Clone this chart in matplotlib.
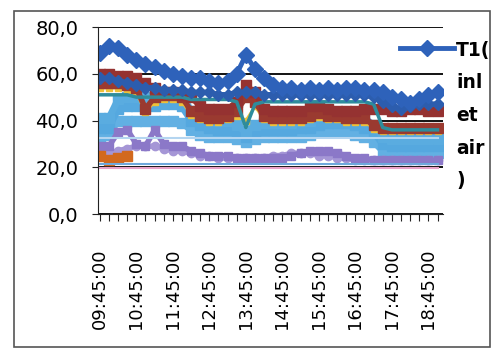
import matplotlib
matplotlib.use("Agg")
import matplotlib.pyplot as plt
from matplotlib.patches import Rectangle
from matplotlib.ticker import FuncFormatter
import numpy as np

nan = np.nan

# categories: 15-minute readings 09:45 .. 19:00
times = ["09:45:00", "10:00:00", "10:15:00", "10:30:00", "10:45:00", "11:00:00",
         "11:15:00", "11:30:00", "11:45:00", "12:00:00", "12:15:00", "12:30:00",
         "12:45:00", "13:00:00", "13:15:00", "13:30:00", "13:45:00", "14:00:00",
         "14:15:00", "14:30:00", "14:45:00", "15:00:00", "15:15:00", "15:30:00",
         "15:45:00", "16:00:00", "16:15:00", "16:30:00", "16:45:00", "17:00:00",
         "17:15:00", "17:30:00", "17:45:00", "18:00:00", "18:15:00", "18:30:00",
         "18:45:00", "19:00:00"]

t1_inlet = [69, 72, 71, 68, 66, 64, 63, 61, 60, 59, 58, 58, 57, 56, 57, 60, 68, 62,
            58, 55, 54, 54, 53, 54, 53, 54, 53, 54, 54, 53, 53, 52, 50, 49, 47.5, 49, 51, 52]
blue2 = [58, 58, 57, 56, 55, 54, 54, 53, 53, 53, 52, 52, 52, 51, 51, 52, 52, 52, 51,
         51, 51, 51, 51, 51, 51, 51, 51, 51, 51, 51, 50, 48, 46, 45, 46, 47, 47, 47]
red_a = [60, 60, 59, 59, 58, 56, 54, 52, 52, 51, 50, 46, 45, 45, 45, 48, 55, 52, 45,
         44, 44, 44, 44, 46, 46, 45, 44, 44, 44, 45, 45, 45, 44, 44, 45, 45, 44, 44]
red_b = [56, 56, 56, 55, 54, 45, 50, 51, 51, 50, 44, 42, 41, 41, 42, 44, 50, 48, 42,
         41, 41, 41, 41, 42, 43, 42, 42, 41, 41, 41, 38, 37, 37, 37, 37, 37, 37, 37]
yellow = [54, 54, 54, 53, 52, 43.5, 48, 49, 49, 48, 42.5, 40.5, 39.5, 39.5, 40.5, 42, 40, 46, 40.5,
          39.5, 39.5, 39.5, 39.5, 40.5, 41.5, 40.5, 40.5, 39.5, 39.5, 39.5, 36.5, 35.5, 35.5, 35.5, 35.5, 35.5, 35.5, 35.5]
teal = [51, 51, 51, 51, 50, 50, 50, 50, 50, 50, 49, 49, 49, 49, 49, 48, 37, 47, 48,
        48, 48, 48, 48, 48, 48, 48, 48, 48, 48, 48, 47, 37, 36, 36, 36, 36, 36, 36]
lblue_1 = [41, 41, 49, 50, 50, 50, 50, 51, 51, 51, 44, 42, 41, 40, 40, 38, 35, 38, 39,
           39, 39, 39, 40, 40, 42, 43, 43, 43, 42, 41, 38, 33, 32, 32, 32, 32, 32, 32]
lblue_2 = [37, 37, 45, 46, 46, 46, 46, 47, 47, 46, 40, 38, 37, 36, 36, 35, 33, 35, 36,
           36, 36, 36, 37, 37, 38, 39, 39, 39, 38, 37, 35, 30, 29, 29, 29, 29, 29, 29]
lblue_3 = [33, 34, 40, 40, 40, 40, 40, 40, 40, 39, 36, 34, 33, 33, 33, 32, 31, 32, 33,
           33, 33, 33, 33, 34, 35, 35, 35, 35, 34, 33, 31, 27, 26, 26, 26, 26, 26, 26]
pale = [32.5] * 38
purple_a = [29, 29, 35, 36, 30, 29, 36, 30, 29, 29, 27, 26, 25, 25, 25, 24, 24, 24, 24,
            24, 24, 25, 26, 27, 27, 27, 26, 25, 24, 24, 23, 23, 23, 23, 23, 23, 23, 23]
purple_b = [25, 26, 27, 28, 29, 29, 29, 28, 27, 27, 26, 25, 25, 24, 24, 24, 24, 24, 24,
            25, 25, 26, 26, 26, 25, 25, 24, 24, 23, 23, 23, 23, 23, 23, 23, 23, 23, 23]
orange = [25, 23, 24, 25] + [nan] * 34
blue_low = [21.4] * 38
pink = [19.7] * 38

x = np.arange(len(times))

fig = plt.figure(figsize=(4.91, 3.49), dpi=100)
ax = fig.add_axes([0.1996, 0.3868, 0.7026, 0.5358])

# series drawn bottom -> top
ax.plot(x, lblue_3, color="#62B0E3", lw=5, marker="s", ms=7, mec="#62B0E3")
ax.plot(x, lblue_2, color="#55A8DF", lw=5, marker="s", ms=7, mec="#55A8DF")
ax.plot(x, lblue_1, color="#5AACE0", lw=5, marker="s", ms=7, mec="#5AACE0")
ax.plot(x, purple_b, color="#A596D6", lw=4, marker="o", ms=6, mec="#A596D6")
ax.plot(x, purple_a, color="#8B78C8", lw=4, marker="s", ms=6, mec="#8B78C8")
ax.plot(x, pale, color="#B4D5F0", lw=1.5)
ax.plot(x, orange, color="#D2691E", lw=3, marker="s", ms=7, mec="#D2691E")
ax.plot(x, blue_low, color="#6FA8DC", lw=1.5)
ax.plot(x, pink, color="#E8A2C8", lw=1.5)
ax.plot(x, yellow, color="#EEC13A", lw=2, marker="s", ms=5, mec="#EEC13A")
ax.plot(x, red_b, color="#9A3A30", lw=4, marker="s", ms=7, mec="#9A3A30")
ax.plot(x, red_a, color="#953231", lw=4, marker="s", ms=7, mec="#953231")
ax.plot(x, teal, color="#2E8C9C", lw=2.5)
ax.plot(x, blue2, color="#2C5DAE", lw=4, marker="D", ms=6, mec="#2C5DAE")
t1_line, = ax.plot(x, t1_inlet, color="#2E62BA", lw=3.5, marker="D", ms=8.5, mec="#2E62BA")

ax.set_ylim(0, 80)
ax.set_xlim(-0.2, 37.6)
ax.set_yticks([0, 20, 40, 60, 80])
ax.yaxis.set_major_formatter(FuncFormatter(lambda v, _: f"{v:.1f}".replace(".", ",")))
ax.set_xticks(x)
ax.set_xticklabels([t if i % 4 == 0 else "" for i, t in enumerate(times)], rotation=90)
ax.grid(axis="y", color="black", lw=1.3)
ax.set_axisbelow(True)
for s in ["top", "right"]:
    ax.spines[s].set_visible(False)
ax.spines["left"].set_color("#222222")
ax.spines["bottom"].set_color("#222222")
ax.tick_params(axis="y", labelsize=14, length=4, pad=10, color="#222222")
ax.tick_params(axis="x", labelsize=13, length=5, pad=20, color="#222222")

leg = ax.legend(handles=[t1_line], labels=["T1(\ninl\net\nair\n)"],
                loc="upper left", bbox_to_anchor=(400 / 491, 1 - 41 / 349),
                bbox_transform=fig.transFigure, frameon=False,
                prop={"weight": "bold", "size": 13.5},
                handlelength=2.9, handletextpad=0.1, borderpad=0, borderaxespad=0)
for t in leg.get_texts():
    t.set_linespacing(1.9)
# keep the key level with the first line of the wrapped label
for col in leg._legend_handle_box.get_children():
    for row in col.get_children():
        row.align = "top"

fig.patches.append(Rectangle((14 / 491, 2 / 349), 476 / 491, 336 / 349,
                             transform=fig.transFigure, fill=False,
                             ec="#555555", lw=1.2))

fig.savefig("out.png", dpi=100)
